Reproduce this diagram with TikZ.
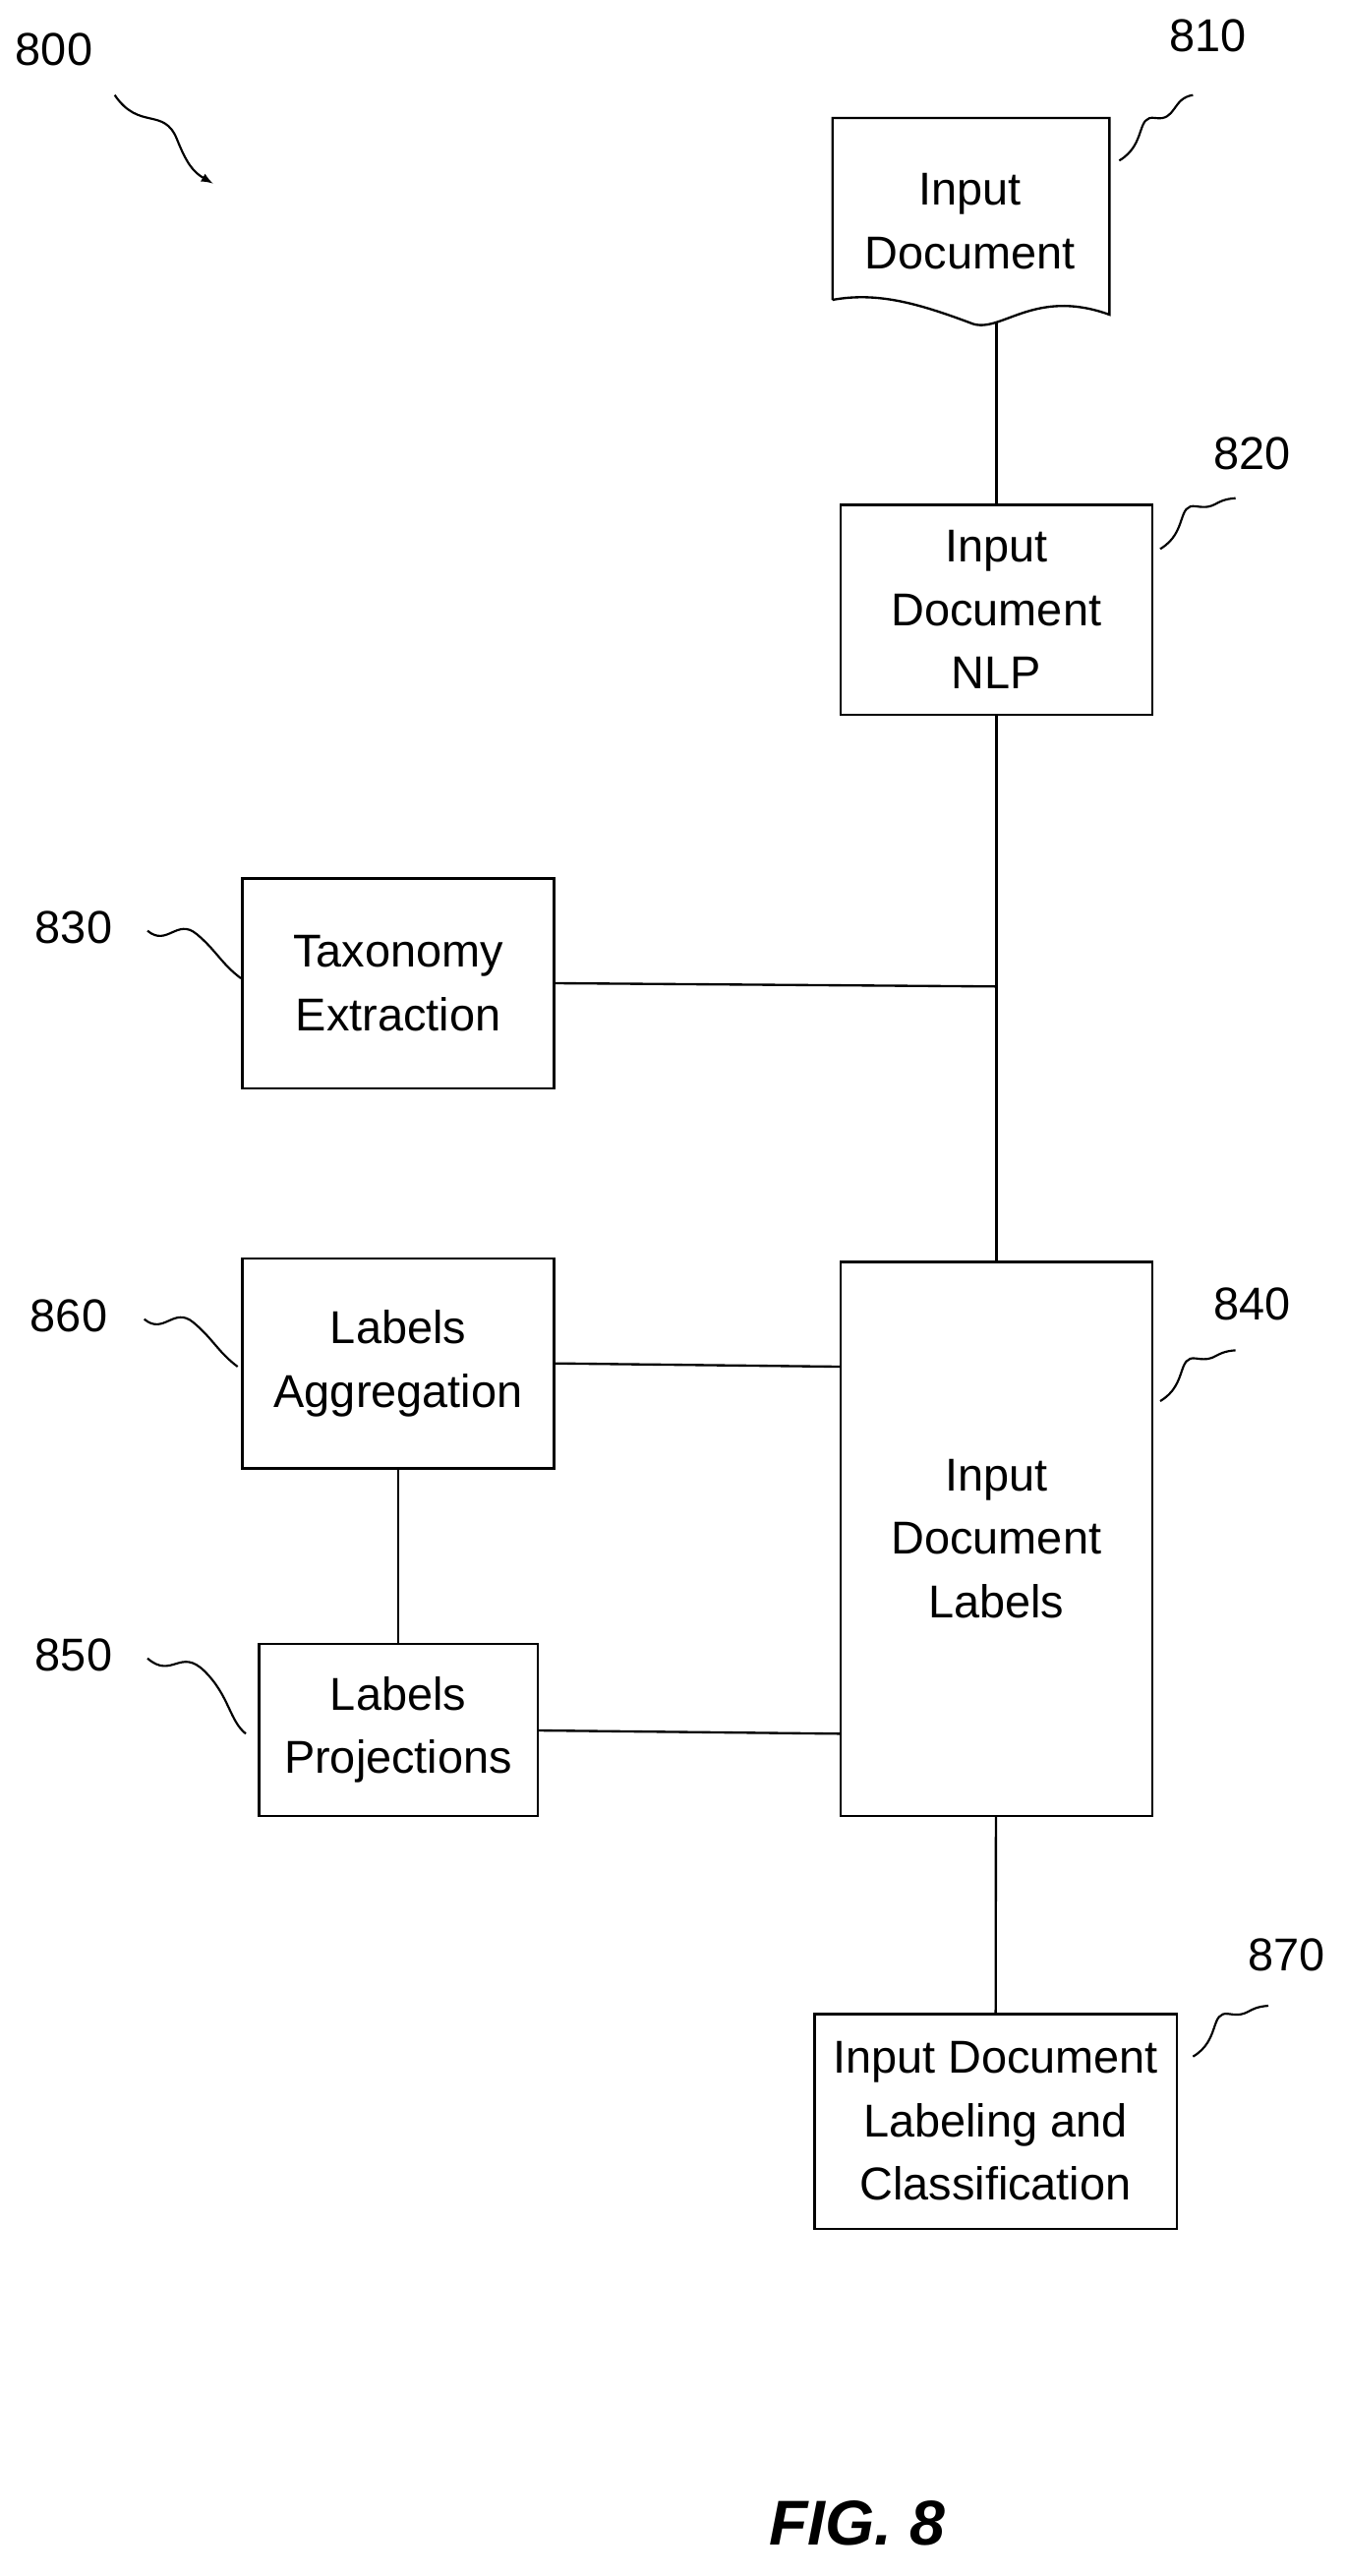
\documentclass[tikz,border=0pt]{standalone}
\usepackage{fontspec}
\setmainfont{Liberation Sans}
\begin{document}
\begin{tikzpicture}[x=0.03cm,y=-0.03cm,
    box/.style={draw,line width=1.2pt,inner sep=0pt,align=center,font=\fontsize{24}{33}\selectfont},
    ref/.style={font=\fontsize{24}{28}\selectfont},
    wire/.style={line width=1.2pt},
    squig/.style={line width=1.1pt}]
    \useasboundingbox (0,0) rectangle (822,1572);
    % document shape
    \draw[wire] (508,183) -- (508,72) -- (677,72) -- (677,192)
        .. controls (630,175) and (610,205) .. (592,197)
        .. controls (560,185) and (535,178) .. (508,183);
    \node[align=center,font=\fontsize{24}{33}\selectfont] (doc) at (592,135) {Input\\Document};
    \coordinate (docb) at (608,196);
    \node[box,minimum width=190*0.03cm,minimum height=128*0.03cm] (nlp) at (608,372) {Input\\Document\\NLP};
    \node[box,minimum width=190*0.03cm,minimum height=128*0.03cm] (tax) at (243,600) {Taxonomy\\Extraction};
    \node[box,minimum width=190*0.03cm,minimum height=128*0.03cm] (agg) at (243,832) {Labels\\Aggregation};
    \node[box,minimum width=170*0.03cm,minimum height=105*0.03cm] (proj) at (243,1055.5) {Labels\\Projections};
    \node[box,minimum width=190*0.03cm,minimum height=338*0.03cm] (lab) at (608,939) {Input\\Document\\Labels};
    \node[box,minimum width=221*0.03cm,minimum height=131*0.03cm] (cls) at (607.5,1294.5) {Input Document\\Labeling and\\Classification};
    \coordinate (j) at (608,602);
    % connectors
    \draw[wire] (docb) -- (nlp);
    \draw[wire] (nlp) -- (lab);
    \draw[wire] (tax.east |- 0,600) -- (j);
    \draw[wire] (agg.east |- 0,832) -- (lab.west |- 0,834);
    \draw[wire] (proj.east |- 0,1056) -- (lab.west |- 0,1058);
    \draw[wire] (agg) -- (proj);
    \draw[wire] (lab) -- (cls);
    % reference numerals
    \node[ref] (r800) at (33,30) {800};
    \node[ref] (r810) at (737,22) {810};
    \node[ref] (r820) at (764,277) {820};
    \node[ref] (r830) at (45,566) {830};
    \node[ref] (r860) at (42,803) {860};
    \node[ref] (r850) at (45,1010) {850};
    \node[ref] (r840) at (764,796) {840};
    \node[ref] (r870) at (785,1193) {870};
    \draw[squig,-latex] (70,58) .. controls (85,80) and (100,65) .. (108,85) .. controls (114,100) and (118,105) .. (130,112);
    \draw[squig] (683,98) .. controls (700,88) and (693,70) .. (705,72) .. controls (718,74) and (715,60) .. (728,58);
    \foreach \x/\y in {708/335,708/855,728/1255}
      \draw[squig] (\x,\y) .. controls (\x+17,\y-10) and (\x+10,\y-28) .. (\x+22,\y-26) .. controls (\x+35,\y-24) and (\x+32,\y-30) .. (\x+46,\y-31);
    \foreach \x/\y in {90/568,88/805}
      \draw[squig] (\x,\y) .. controls (\x+12,\y+10) and (\x+18,\y-8) .. (\x+30,\y+2) .. controls (\x+42,\y+12) and (\x+45,\y+20) .. (\x+57,\y+29);
    \draw[squig] (90,1012) .. controls (105,1025) and (110,1005) .. (125,1020) .. controls (140,1035) and (140,1050) .. (150,1058);
    \node[font=\bfseries\itshape\fontsize{33}{36}\selectfont] (fig) at (523,1540) {FIG. 8};
\end{tikzpicture}
\end{document}
